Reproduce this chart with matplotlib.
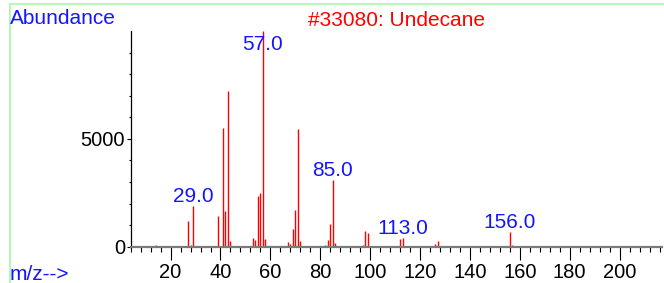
#!/usr/bin/env python3
# -*- coding: utf-8 -*-

import matplotlib
matplotlib.use("Agg")
import matplotlib.pyplot as plt
from matplotlib.lines import Line2D
from matplotlib.ticker import MultipleLocator


# spectrum data
mz = [14, 16, 27, 28, 29, 30, 31, 39, 41, 42, 43, 44, 50, 51, 53, 54, 55, 56,
      57, 58, 65, 66, 67, 68, 69, 70, 71, 72, 77, 79, 82, 83, 84, 85, 86, 97,
      98, 99, 100, 112, 113, 114, 126, 127, 128, 156, 157]
abundance = [70, 40, 1190, 80, 1885, 40, 20, 1405, 5525, 1670, 7230, 260, 40,
             35, 395, 305, 2345, 2470, 9999, 345, 35, 20, 200, 125, 805, 1700,
             5450, 265, 25, 25, 90, 290, 1035, 3085, 190, 90, 740, 655, 25, 340,
             400, 20, 125, 250, 15, 680, 60]
label_mz = [29, 57, 85, 113, 156]
title = "#33080: Undecane"

BLUE = "#1414ff"
RED = "#ff0000"

plt.rcParams["font.family"] = ["Liberation Sans", "DejaVu Sans"]

fig = plt.figure(figsize=(6.64, 2.83), dpi=100)
ax = fig.add_axes([130.7 / 664, 36.3 / 283, (662 - 130.7) / 664, 215.7 / 283])

ax.vlines(mz, 0, abundance, color=RED, lw=1.0)

ymax = max(abundance)
ax.set_xlim(4, 217)
ax.set_ylim(0, ymax)

for m in label_mz:
    h = abundance[mz.index(m)]
    ax.annotate(f"{m:.1f}", (m, min(h, 0.89 * ymax)), xytext=(0, 3.2),
                textcoords="offset points", ha="center", va="baseline",
                color=BLUE, fontsize=15, annotation_clip=False)

ax.spines["top"].set_visible(False)
ax.spines["right"].set_visible(False)
ax.spines["left"].set_color("black")
ax.spines["left"].set_linewidth(0.9)
ax.spines["bottom"].set_color("#7a7a7a")
ax.spines["bottom"].set_linewidth(1.6)

ax.xaxis.set_major_locator(MultipleLocator(20))
ax.xaxis.set_minor_locator(MultipleLocator(4))
ax.yaxis.set_major_locator(MultipleLocator(5000))
ax.yaxis.set_minor_locator(MultipleLocator(1000))
ax.tick_params(axis="x", which="major", length=9, width=0.8, pad=3, labelsize=14.5)
ax.tick_params(axis="x", which="minor", length=3.8, width=0.8)
ax.tick_params(axis="y", which="major", length=3, width=0.8, pad=1, labelsize=14.5)
ax.tick_params(axis="y", which="minor", length=1.5, width=0.8)
ax.set_xticks([t for t in range(20, 201, 20)])

fig.text(10 / 664, 1 - 24 / 283, "Abundance", color=BLUE, fontsize=15,
         ha="left", va="baseline")
fig.text(396 / 664, 1 - 26 / 283, title, color=RED, fontsize=15,
         ha="center", va="baseline")
fig.text(10 / 664, 3.5 / 283, "m/z-->", color=BLUE, fontsize=15,
         ha="left", va="baseline")

# light green frame around the panel
frame = "#b8f5b8"
fig.add_artist(Line2D([10 / 664, 1], [1 - 4 / 283, 1 - 4 / 283], color=frame, lw=1.5))
fig.add_artist(Line2D([10 / 664, 10 / 664], [0, 1 - 4 / 283], color=frame, lw=1.5))

fig.savefig("out.png", dpi=100)
